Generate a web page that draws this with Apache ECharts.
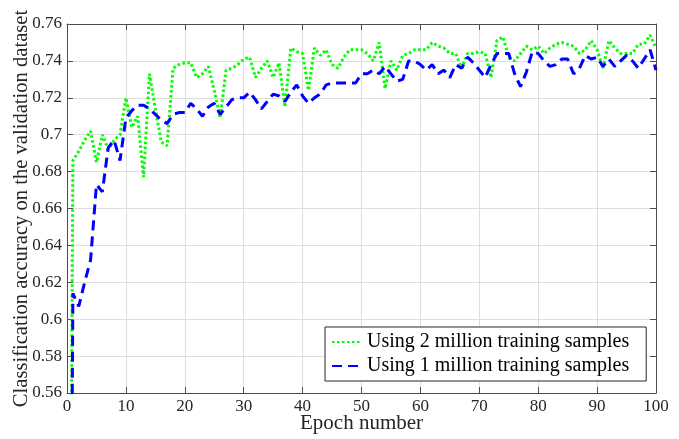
<!DOCTYPE html>
<html>
<head>
<meta charset="utf-8">
<script src="https://cdn.jsdelivr.net/npm/echarts@6/dist/echarts.min.js"></script>
<style>
  html, body { margin: 0; padding: 0; background: #fff; }
  #chart { width: 679px; height: 439px; }
</style>
</head>
<body>
<div id="chart"></div>
<script>
// Validation accuracy per epoch (epoch 0 = untrained start, below the visible range)
const epochs = [
  0, 1, 2, 3, 4, 5, 6, 7, 8, 9,
  10, 11, 12, 13, 14, 15, 16, 17, 18, 19,
  20, 21, 22, 23, 24, 25, 26, 27, 28, 29,
  30, 31, 32, 33, 34, 35, 36, 37, 38, 39,
  40, 41, 42, 43, 44, 45, 46, 47, 48, 49,
  50, 51, 52, 53, 54, 55, 56, 57, 58, 59,
  60, 61, 62, 63, 64, 65, 66, 67, 68, 69,
  70, 71, 72, 73, 74, 75, 76, 77, 78, 79,
  80, 81, 82, 83, 84, 85, 86, 87, 88, 89,
  90, 91, 92, 93, 94, 95, 96, 97, 98, 99, 100
];

const acc2M = [
  0.100, 0.686, 0.691, 0.697, 0.702, 0.685, 0.700, 0.692, 0.697, 0.700,
  0.720, 0.704, 0.710, 0.677, 0.733, 0.714, 0.696, 0.694, 0.736, 0.738,
  0.739, 0.739, 0.731, 0.733, 0.737, 0.724, 0.709, 0.735, 0.736, 0.738,
  0.741, 0.742, 0.731, 0.736, 0.740, 0.731, 0.739, 0.715, 0.747, 0.745,
  0.744, 0.724, 0.747, 0.743, 0.746, 0.738, 0.736, 0.742, 0.746, 0.746,
  0.746, 0.744, 0.740, 0.750, 0.725, 0.740, 0.735, 0.743, 0.744, 0.746,
  0.746, 0.746, 0.750, 0.748, 0.747, 0.744, 0.744, 0.736, 0.744, 0.744,
  0.745, 0.744, 0.731, 0.751, 0.753, 0.742, 0.740, 0.744, 0.748, 0.746,
  0.748, 0.744, 0.747, 0.749, 0.750, 0.749, 0.748, 0.744, 0.746, 0.751,
  0.746, 0.736, 0.751, 0.747, 0.744, 0.744, 0.744, 0.749, 0.749, 0.754, 0.747
];

const acc1M = [
  0.100, 0.614, 0.607, 0.620, 0.632, 0.673, 0.669, 0.693, 0.697, 0.686,
  0.709, 0.713, 0.716, 0.716, 0.714, 0.711, 0.708, 0.706, 0.711, 0.712,
  0.712, 0.717, 0.714, 0.710, 0.715, 0.717, 0.711, 0.715, 0.719, 0.720,
  0.720, 0.723, 0.719, 0.714, 0.718, 0.722, 0.721, 0.718, 0.723, 0.727,
  0.721, 0.717, 0.720, 0.722, 0.727, 0.728, 0.728, 0.728, 0.728, 0.728,
  0.733, 0.733, 0.735, 0.733, 0.737, 0.733, 0.729, 0.730, 0.740, 0.740,
  0.738, 0.735, 0.738, 0.733, 0.735, 0.731, 0.738, 0.736, 0.742, 0.739,
  0.735, 0.731, 0.738, 0.744, 0.744, 0.744, 0.733, 0.726, 0.734, 0.745,
  0.744, 0.740, 0.737, 0.738, 0.741, 0.741, 0.733, 0.736, 0.743, 0.741,
  0.742, 0.737, 0.741, 0.737, 0.740, 0.743, 0.740, 0.736, 0.741, 0.746, 0.735
];

const seriesNames = ['Using 2 million training samples', 'Using 1 million training samples'];
const xTitle = 'Epoch number';
const yTitle = 'Classification accuracy on the validation dataset';

const FONT = 'Liberation Serif';
const TEXT = '#262626';
const AXIS = '#4d4d4d';
const GRID = '#dedede';

const pair = (xs, ys) => xs.map((x, i) => [x, ys[i]]);

const chart = echarts.init(document.getElementById('chart'), null, { renderer: 'canvas' });

const xBase = {
  type: 'value', min: 0, max: 100, interval: 10,
  axisLine: { show: true, onZero: false, lineStyle: { color: AXIS, width: 1 } },
  axisTick: { show: true, inside: true, length: 6, lineStyle: { color: AXIS } },
  splitLine: { show: true, lineStyle: { color: GRID, width: 1 } }
};
const yBase = {
  type: 'value', min: 0.56, max: 0.76, interval: 0.02,
  axisLine: { show: true, onZero: false, lineStyle: { color: AXIS, width: 1 } },
  axisTick: { show: true, inside: true, length: 6, lineStyle: { color: AXIS } },
  splitLine: { show: true, lineStyle: { color: GRID, width: 1 } }
};

chart.setOption({
  animation: false,
  backgroundColor: '#fff',
  textStyle: { fontFamily: FONT },
  grid: { left: 67, right: 23, top: 24, bottom: 46, containLabel: false, outerBoundsMode: 'none' },
  xAxis: [
    Object.assign({}, xBase, {
      position: 'bottom',
      name: xTitle, nameLocation: 'middle', nameGap: 20, nameMoveOverlap: false,
      nameTextStyle: { fontFamily: FONT, fontSize: 21, color: TEXT },
      axisLabel: { fontFamily: FONT, fontSize: 17, color: TEXT, margin: 5 }
    }),
    Object.assign({}, xBase, {
      position: 'top',
      axisLabel: { show: false },
      splitLine: { show: false }
    })
  ],
  yAxis: [
    Object.assign({}, yBase, {
      position: 'left',
      name: yTitle, nameLocation: 'middle', nameGap: 35, nameMoveOverlap: false,
      nameTextStyle: { fontFamily: FONT, fontSize: 20.6, color: TEXT },
      axisLabel: {
        fontFamily: FONT, fontSize: 17, color: TEXT, margin: 5,
        formatter: v => String(parseFloat(v.toFixed(2)))
      }
    }),
    Object.assign({}, yBase, {
      position: 'right',
      axisLabel: { show: false },
      splitLine: { show: false }
    })
  ],
  legend: {
    orient: 'vertical',
    left: 325, top: 327,
    padding: [5, 17, 5, 6],
    itemGap: 4,
    itemWidth: 30,
    itemHeight: 14,
    itemStyle: { opacity: 0 },
    backgroundColor: '#fff',
    borderColor: '#262626',
    borderWidth: 1,
    borderRadius: 0,
    textStyle: { fontFamily: FONT, fontSize: 20, color: '#000' },
    data: seriesNames
  },
  series: [
    {
      name: seriesNames[0],
      type: 'line',
      data: pair(epochs, acc2M),
      symbol: 'none',
      clip: true,
      color: '#00ff00',
      lineStyle: { color: '#00ff00', width: 3, type: [2.5, 2.5], cap: 'butt' },
      z: 2
    },
    {
      name: seriesNames[1],
      type: 'line',
      data: pair(epochs, acc1M),
      symbol: 'none',
      clip: true,
      color: '#0000ff',
      lineStyle: { color: '#0000ff', width: 3, type: [10, 6], cap: 'butt' },
      z: 3
    }
  ]
});
</script>
</body>
</html>
